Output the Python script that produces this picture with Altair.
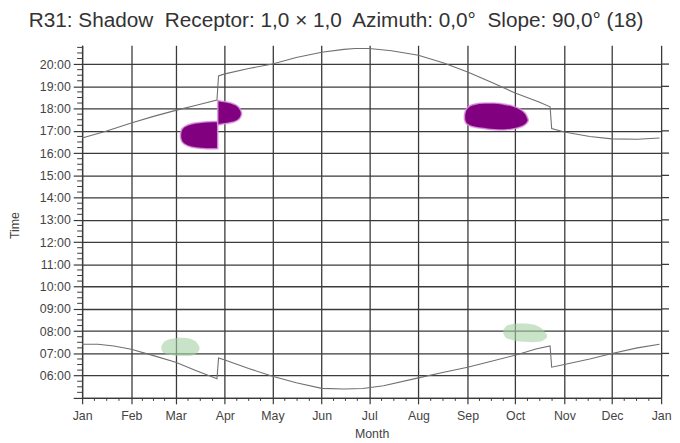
import altair as alt
import pandas as pd

# ---------------- data ----------------
month_labels = ["Jan", "Feb", "Mar", "Apr", "May", "Jun", "Jul", "Aug", "Sep", "Oct", "Nov", "Dec", "Jan"]
month_starts = [0, 31, 59, 90, 120, 151, 181, 212, 243, 273, 304, 334, 365]
hour_ticks = [5, 6, 7, 8, 9, 10, 11, 12, 13, 14, 15, 16, 17, 18, 19, 20]

# upper limit curve (day of year, hour)
upper_day = [0, 15, 31, 45, 59, 72, 85, 86, 90, 105, 120, 135, 151, 165, 172, 181,
             195, 212, 228, 243, 258, 273, 288, 295, 296, 304, 320, 334, 350, 364]
upper_hour = [16.68, 16.98, 17.35, 17.65, 17.92, 18.15, 18.38, 19.47, 19.56, 19.8, 20.0, 20.3,
              20.53, 20.66, 20.7, 20.7, 20.6, 20.4, 20.05, 19.65, 19.18, 18.7, 18.3, 18.08,
              17.1, 16.95, 16.75, 16.64, 16.62, 16.68]

# lower limit curve
lower_day = [0, 10, 20, 31, 45, 59, 72, 85, 86, 90, 105, 120, 135, 151, 165, 177,
             190, 212, 228, 243, 258, 273, 286, 295, 296, 304, 320, 334, 350, 364]
lower_hour = [7.41, 7.41, 7.33, 7.19, 6.9, 6.6, 6.22, 5.86, 6.79, 6.7, 6.32, 5.97, 5.68,
              5.43, 5.4, 5.42, 5.55, 5.9, 6.15, 6.38, 6.65, 6.92, 7.2, 7.34, 6.38, 6.5,
              6.75, 7.0, 7.25, 7.41]

# purple shadow areas (evening)
blob_a_day = [62.0, 62.5, 63.5, 65.5, 68, 71, 75, 79, 83, 85.5]
blob_a_top = [16.88, 17.02, 17.13, 17.23, 17.3, 17.35, 17.39, 17.41, 17.42, 17.42]
blob_a_bot = [16.72, 16.58, 16.46, 16.36, 16.29, 16.24, 16.21, 16.19, 16.19, 16.2]

blob_b_day = [85.5, 88, 91, 94, 96.5, 98.5, 99.8, 100.5]
blob_b_top = [18.36, 18.33, 18.3, 18.25, 18.18, 18.08, 17.95, 17.82]
blob_b_bot = [17.26, 17.3, 17.33, 17.37, 17.42, 17.5, 17.6, 17.72]

blob_c_day = [241.0, 241.8, 243.5, 247.0, 253.6, 259.8, 266, 271.5, 275.0, 278.0, 280.0, 281.2]
blob_c_top = [17.72, 17.93, 18.08, 18.19, 18.25, 18.25, 18.2, 18.12, 18.02, 17.88, 17.72, 17.52]
blob_c_bot = [17.52, 17.36, 17.26, 17.17, 17.1, 17.05, 17.04, 17.08, 17.14, 17.22, 17.32, 17.44]

# light green areas (morning)
green_a_day = [50, 51.5, 54.5, 58.5, 62.5, 66.5, 70, 72.5, 74]
green_a_top = [7.32, 7.5, 7.62, 7.68, 7.7, 7.68, 7.6, 7.47, 7.28]
green_a_bot = [7.18, 7.02, 6.95, 6.9, 6.88, 6.88, 6.92, 7.02, 7.16]

green_b_day = [265.5, 267, 270, 274, 279, 284, 288, 291, 293]
green_b_top = [8.05, 8.2, 8.3, 8.34, 8.34, 8.3, 8.2, 8.03, 7.85]
green_b_bot = [7.88, 7.72, 7.62, 7.56, 7.52, 7.5, 7.52, 7.6, 7.72]

title_text = "R31: Shadow\u00a0 Receptor: 1,0 \u00d7 1,0\u00a0 Azimuth: 0,0\u00b0\u00a0 Slope: 90,0\u00b0 (18)"

# ---------------- tables ----------------
curves = pd.concat([
    pd.DataFrame({"day": upper_day, "hour": upper_hour, "curve": "upper"}),
    pd.DataFrame({"day": lower_day, "hour": lower_hour, "curve": "lower"}),
])

def band(name, d, t, b):
    return pd.DataFrame({"day": d, "top": t, "bot": b, "blob": name})

purple = pd.concat([band("A", blob_a_day, blob_a_top, blob_a_bot),
                    band("B", blob_b_day, blob_b_top, blob_b_bot),
                    band("C", blob_c_day, blob_c_top, blob_c_bot)])
green = pd.concat([band("GA", green_a_day, green_a_top, green_a_bot),
                   band("GB", green_b_day, green_b_top, green_b_bot)])

# minor ticks: quarter months and quarter hours
minor_x = []
for i in range(12):
    ln = month_starts[i + 1] - month_starts[i]
    for k in (1, 2, 3):
        minor_x.append(month_starts[i] + ln * k / 4)
minor_y = [h + q for h in hour_ticks for q in (0.25, 0.5, 0.75) if h + q < 20.85]
minor_x_df = pd.DataFrame({"day": minor_x})
minor_y_df = pd.DataFrame({"hour": minor_y})
grid_ext_df = pd.DataFrame({"hour": [h for h in hour_ticks if h >= 6]})

ms = "[" + ",".join(str(v) for v in month_starts) + "]"
ml = "[" + ",".join("'" + m + "'" for m in month_labels) + "]"

FONT = "Liberation Sans"
GRID = "#3a3a3a"
W, H = 586, 357

x_scale = alt.Scale(domain=[0, 365], nice=False, zero=False)
y_scale = alt.Scale(domain=[5, 20.85], nice=False, zero=False)

x_axis = alt.Axis(values=month_starts, tickCount=100, title="Month",
                  labelExpr=f"{ml}[indexof({ms}, datum.value)]",
                  grid=True, gridColor=GRID, gridWidth=1.3,
                  tickSize=6, tickColor=GRID, tickWidth=1.2,
                  domainColor=GRID, domainWidth=1.3, labelOverlap=False,
                  labelPadding=6, labelFont=FONT, labelFontSize=12.5, labelColor="#444",
                  labelFlush=False,
                  titleFont=FONT, titleFontSize=12.5, titleFontWeight="normal",
                  titleColor="#444", titleY=36, titleBaseline="middle")

y_axis = alt.Axis(values=hour_ticks, tickCount=100, title="Time",
                  labelExpr="datum.value >= 6 ? (datum.value < 10 ? '0' : '') + datum.value + ':00' : ''",
                  grid=True, gridColor=GRID, gridWidth=1.3,
                  tickSize=9, tickColor=GRID, tickWidth=1.2,
                  domainColor=GRID, domainWidth=1.3, labelOverlap=False,
                  labelPadding=3, labelFont=FONT, labelFontSize=12.5, labelColor="#444",
                  labelFlush=False,
                  titleFont=FONT, titleFontSize=12.5, titleFontWeight="normal", titleColor="#444",
                  titleX=-68, titleY=182, titleBaseline="middle", titleAlign="center")

green_layer = alt.Chart(green).mark_area(
    color="#a3d1a3", opacity=0.6, interpolate="monotone"
).encode(x=alt.X("day:Q", scale=x_scale, axis=x_axis),
         y=alt.Y("top:Q", scale=y_scale, axis=y_axis), y2="bot:Q", detail="blob:N")

purple_layer = alt.Chart(purple).mark_area(
    color="#800080", opacity=1, interpolate="monotone",
    stroke="#dc96dc", strokeWidth=1.6, strokeOpacity=0.8
).encode(x="day:Q", y="top:Q", y2="bot:Q", detail="blob:N")

line_layer = alt.Chart(curves).mark_line(
    color="#707070", strokeWidth=1.1
).encode(x="day:Q", y="hour:Q", detail="curve:N")

minor_x_layer = alt.Chart(minor_x_df).mark_rule(color=GRID, strokeWidth=1).encode(
    x="day:Q", y=alt.value(H), y2=alt.value(H + 3))

minor_y_layer = alt.Chart(minor_y_df).mark_rule(color=GRID, strokeWidth=1).encode(
    y="hour:Q", x=alt.value(-5), x2=alt.value(0))

grid_ext_layer = alt.Chart(grid_ext_df).mark_rule(color=GRID, strokeWidth=1.3).encode(
    y="hour:Q", x=alt.value(W), x2=alt.value(W + 8))

chart = alt.layer(green_layer, purple_layer, line_layer, minor_x_layer, minor_y_layer,
                  grid_ext_layer).properties(
    width=W, height=H,
    autosize=alt.AutoSizeParams(type="none"),
    padding={"left": 75, "top": 35, "right": 11, "bottom": 43},
    title=alt.TitleParams(title_text, font=FONT, fontSize=21, fontWeight="normal",
                          color="#333", anchor="middle", frame="group", dx=-36, offset=14),
).configure_view(stroke=None)

chart.save("out.html", embed_options={"renderer": "svg", "actions": False})
